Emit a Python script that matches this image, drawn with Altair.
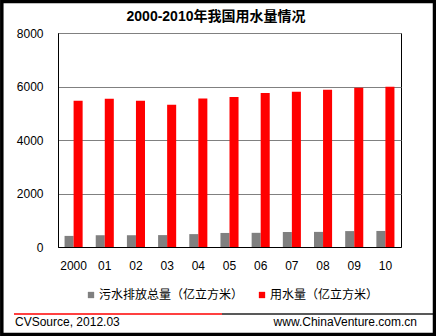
import altair as alt
import pandas as pd

years = ["2000", "01", "02", "03", "04", "05", "06", "07", "08", "09", "10"]
sewage = [415, 440, 440, 445, 482, 525, 530, 560, 565, 595, 600]
water = [5470, 5540, 5470, 5320, 5550, 5610, 5760, 5800, 5880, 5950, 5990]
series_names = ["污水排放总量（亿立方米）", "用水量（亿立方米）"]
series_colors = ["#808080", "#FF0000"]
title_text = "2000-2010年我国用水量情况"
source_text = "CVSource, 2012.03"
site_text = "www.ChinaVenture.com.cn"

rows = []
for y, s, w in zip(years, sewage, water):
    rows.append({"year": y, "series": series_names[0], "value": s})
    rows.append({"year": y, "series": series_names[1], "value": w})
df = pd.DataFrame(rows)

FONT = "Liberation Sans, Noto Sans CJK SC, sans-serif"

bars = alt.Chart(df).mark_bar().encode(
    x=alt.X("year:N", sort=years,
            scale=alt.Scale(paddingInner=0.42, paddingOuter=0.21),
            axis=alt.Axis(title=None, labelAngle=0, ticks=False, labelPadding=13,
                          domainColor="black", labelFontSize=12, labelColor="black",
                          labelFont=FONT)),
    xOffset=alt.XOffset("series:N", sort=series_names,
                        scale=alt.Scale(paddingInner=0, paddingOuter=0)),
    y=alt.Y("value:Q", scale=alt.Scale(domain=[0, 8000]),
            axis=alt.Axis(title=None, values=[0, 2000, 4000, 6000, 8000], format="d",
                          ticks=False, labelPadding=15, domainColor="black",
                          gridColor="#808080", gridWidth=1, labelFontSize=12,
                          labelColor="black", labelFont=FONT)),
    color=alt.Color("series:N", sort=series_names,
                    scale=alt.Scale(domain=series_names, range=series_colors),
                    legend=alt.Legend(title=None, orient="none", direction="horizontal",
                                      legendX=27, legendY=256, symbolType="square",
                                      symbolSize=40, symbolStrokeWidth=0,
                                      labelFontSize=12, labelFont=FONT, labelColor="black",
                                      columnPadding=12, symbolOffset=0, labelOffset=2)),
)

one = pd.DataFrame({"t": [title_text]})
title = alt.Chart(one).mark_text(fontSize=14, fontWeight="bold", font=FONT,
                                 align="center", baseline="middle", color="black").encode(
    x=alt.value(158), y=alt.value(-16), text="t:N")

foot = pd.DataFrame({"a": [source_text], "b": [site_text]})
src = alt.Chart(foot).mark_text(fontSize=12, font=FONT, align="left",
                                baseline="alphabetic", color="black").encode(
    x=alt.value(-43), y=alt.value(293), text="a:N")
site = alt.Chart(foot).mark_text(fontSize=12, font=FONT, align="right",
                                 baseline="alphabetic", color="black").encode(
    x=alt.value(359), y=alt.value(293), text="b:N")
red_line = alt.Chart(foot).mark_rule(color="#FF0000", strokeWidth=1.5).encode(
    x=alt.value(-44), x2=alt.value(164), y=alt.value(281))
black_line = alt.Chart(foot).mark_rule(color="#222222", strokeWidth=1.5).encode(
    x=alt.value(164), x2=alt.value(376), y=alt.value(281))
border = alt.Chart(foot).mark_rect(fill="transparent", stroke="black", strokeWidth=3.5).encode(
    x=alt.value(-56.2), x2=alt.value(376.5), y=alt.value(-31.5), y2=alt.value(301.5))

chart = alt.layer(bars, title, src, site, red_line, black_line, border).properties(
    width=343, height=214,
    autosize=alt.AutoSizeParams(type="none"),
    padding={"left": 58, "top": 33, "right": 35, "bottom": 89},
    background="white",
).configure_view(stroke="black", strokeWidth=1)

chart.save("out.html", embed_options={"renderer": "svg", "actions": False})
